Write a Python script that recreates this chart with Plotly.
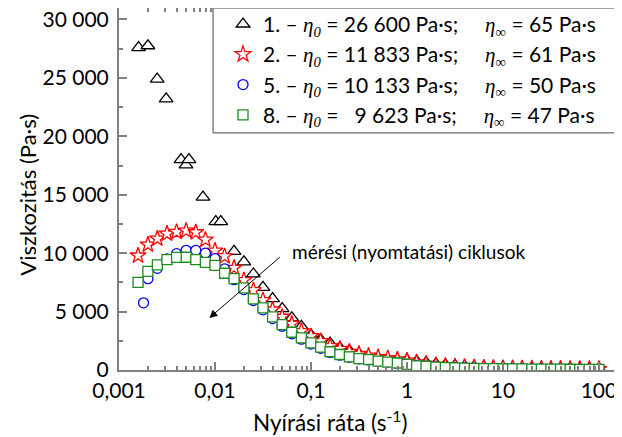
import plotly.graph_objects as go

# ---- data ----
x_grid = [0.0158, 0.02, 0.0251, 0.0316, 0.0398, 0.0501, 0.0631, 0.0794, 0.1,
          0.126, 0.158, 0.2, 0.251, 0.316, 0.398, 0.501, 0.631, 0.794, 1,
          1.26, 1.58, 2, 2.51, 3.16, 3.98, 5.01, 6.31, 7.94, 10,
          12.6, 15.8, 20, 25.1, 31.6, 39.8, 50.1, 63.1, 79.4, 100]
x_early = [0.00158, 0.002, 0.00251, 0.00316, 0.00398, 0.00501, 0.00631, 0.00794, 0.01, 0.0126]

x1_early = [0.0016, 0.002, 0.0025, 0.0031, 0.00443, 0.00499, 0.00536, 0.0075, 0.0102, 0.0115]
y1 = [27600, 27750, 24900, 23200, 18000, 17550, 18000, 14800, 12700, 12700,
      10150, 9250, 8220, 7080, 6110, 5260, 4460, 3740, 3000, 2600, 2300, 1900, 1670,
      1390, 1160, 1040, 960, 880, 850, 750, 640, 530, 450, 390, 330, 290, 260, 235,
      215, 200, 185, 172, 160, 150, 140, 132, 125, 118, 112]

y2 = [9790, 10730, 11240, 11670, 11810, 11920, 11780, 11150, 10210, 9730,
      8740, 7680, 6820, 5970, 5170, 4550, 3950, 3320, 2890, 2460, 2030, 1800, 1550,
      1380, 1220, 1100, 1000, 900, 800, 650, 520, 420, 350, 300, 260, 230, 205, 185,
      170, 155, 145, 135, 125, 118, 110, 104, 98, 93, 90]

x5_early = [0.0018, 0.002, 0.00251, 0.00316, 0.00398, 0.00501, 0.00631, 0.00794, 0.01, 0.0126]
y5 = [5750, 7820, 8700, 9500, 9960, 10240, 10240, 10000, 9530, 8660,
      7730, 6880, 5950, 5150, 4400, 3750, 3100, 2640, 2220, 1860, 1500, 1270, 1090,
      950, 860, 740, 660, 600, 500, 390, 340, 270, 220, 195, 175, 155, 140, 128,
      118, 108, 100, 94, 88, 83, 78, 74, 70, 67, 64]

y8 = [7500, 8440, 9000, 9440, 9640, 9650, 9440, 9210, 8950, 8280,
      7820, 7025, 6085, 5316, 4547, 3889, 3231, 2752, 2325, 1950, 1560, 1325, 1130,
      980, 900, 760, 670, 600, 480, 360, 320, 250, 200, 180, 160, 140, 125, 115,
      105, 95, 88, 82, 76, 72, 68, 64, 60, 57, 55]

x_ticks = [0.001, 0.01, 0.1, 1, 10, 100]
x_ticktext = ["0,001", "0,01", "0,1", "1", "10", "100"]
y_ticks = [0, 5000, 10000, 15000, 20000, 25000, 30000]
y_ticktext = ["0", "5 000", "10 000", "15 000", "20 000", "25 000", "30 000"]

ETA = "<span style='font-family:Liberation Serif'><i>η</i></span>"
SUB0 = "<sub><span style='font-family:Liberation Serif'><i>0</i></span></sub>"
SUBI = "<sub><span style='font-family:Liberation Serif'>∞</span></sub>"
NB = "\u00a0"
names = [
    f"1. – {ETA}{SUB0} = 26 600 Pa·s;{NB*5}{ETA}{SUBI} = 65 Pa·s",
    f"2. – {ETA}{SUB0} = 11 833 Pa·s;{NB*5}{ETA}{SUBI} = 61 Pa·s",
    f"5. – {ETA}{SUB0} = 10 133 Pa·s;{NB*5}{ETA}{SUBI} = 50 Pa·s",
    f"8. – {ETA}{SUB0} ={NB*3}9 623 Pa·s;{NB*5}{ETA}{SUBI} = 47 Pa·s",
]

FONT = "Lato"

fig = go.Figure()
series = [
    (x1_early + x_grid, y1, "triangle-up", 12, "black", names[0]),
    (x_early + x_grid, y2, "star", 12, "#ff0000", names[1]),
    (x5_early + x_grid, y5, "circle", 10, "#0000ff", names[2]),
    (x_early + x_grid, y8, "square", 10, "#1e8c1e", names[3]),
]
for xs, ys, sym, sz, col, nm in series:
    fig.add_trace(go.Scatter(
        x=xs, y=ys, mode="markers", name=nm,
        marker=dict(symbol=sym, size=sz, color="white",
                    line=dict(color=col, width=1.3)),
    ))

minor_x = [m * 10 ** e for e in range(-3, 3) for m in range(2, 10)]

axis_common = dict(showline=True, linecolor="#808080", linewidth=2,
                   ticks="inside", tickcolor="#808080", tickwidth=1.5,
                   mirror="ticks", showgrid=False, zeroline=False,
                   ticklabeloverflow="allow",
                   tickfont=dict(family=FONT, size=21, color="black"))

fig.update_xaxes(type="log", range=[-3, 2.24], tickmode="array",
                 tickvals=x_ticks, ticktext=x_ticktext, ticklen=8,
                 ticklabelstandoff=1,
                 minor=dict(tickvals=minor_x, ticks="inside", ticklen=4,
                            tickcolor="#808080", showgrid=False),
                 **axis_common)
fig.update_yaxes(range=[0, 30983], tickmode="array", tickvals=y_ticks,
                 ticktext=y_ticktext, ticklen=8, ticklabelstandoff=4,
                 minor=dict(dtick=2500, ticks="inside", ticklen=4,
                            tickcolor="#808080", showgrid=False),
                 **axis_common)

# legend frame (white box with dark border, flush with the top-right corner)
fig.add_shape(type="rect", xref="paper", yref="paper",
              x0=0.187, x1=0.996, y0=0.655, y1=1.0, layer="above",
              fillcolor="white", line=dict(color="#444444", width=1))

fig.add_annotation(text="Viszkozitás (Pa·s)", xref="paper", yref="paper",
                   x=-0.181, y=0.484, textangle=-90, showarrow=False,
                   xanchor="center", yanchor="middle",
                   font=dict(family=FONT, size=22, color="black"))
fig.add_annotation(text="Nyírási ráta (s<sup>-1</sup>)", xref="paper", yref="paper",
                   x=0.4195, y=-0.142, showarrow=False,
                   xanchor="center", yanchor="middle",
                   font=dict(family=FONT, size=22.5, color="black"))
fig.add_annotation(text="mérési (nyomtatási) ciklusok", xref="x", yref="y",
                   x=-1.219, y=10130, showarrow=False, xanchor="left",
                   yanchor="middle",
                   font=dict(family=FONT, size=19, color="black"))
fig.add_annotation(text="", xref="x", yref="y", x=-2.059, y=4460,
                   ax=72, ay=-62, showarrow=True, arrowhead=2, arrowsize=1.6,
                   arrowwidth=1, arrowcolor="black", standoff=0)

fig.update_layout(
    width=614, height=429,
    margin=dict(l=111, r=0, t=0, b=66.5, pad=0, autoexpand=False),
    paper_bgcolor="white", plot_bgcolor="white",
    showlegend=True,
    legend=dict(x=0.2068, xanchor="left", y=1.0115, yanchor="top",
                bgcolor="rgba(0,0,0,0)", borderwidth=0,
                font=dict(family=FONT, size=21, color="black"),
                tracegroupgap=0),
)

fig.write_html("out.html")
